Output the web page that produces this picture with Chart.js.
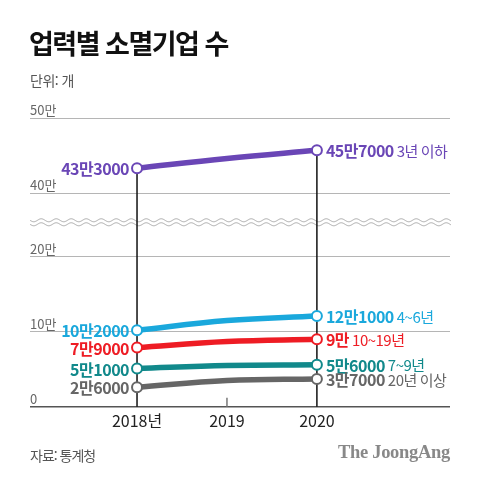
<!DOCTYPE html>
<html lang="ko">
<head>
<meta charset="utf-8">
<title>업력별 소멸기업 수</title>
<script src="https://cdn.jsdelivr.net/npm/chart.js@4.4.1/dist/chart.umd.min.js"></script>
<style>
  html, body { margin: 0; padding: 0; background: #fff; }
  #wrap { position: relative; width: 480px; height: 483px; overflow: hidden; }
  #chart { position: absolute; left: 0; top: 0; }
  .txt { position: absolute; font-family: 'Noto Sans CJK KR', sans-serif; white-space: nowrap; }
  #title { left: 29px; top: 23px; font-size: 27px; font-weight: 700; letter-spacing: -1.5px; color: #111; }
  #unit { left: 30px; top: 70px; font-size: 14px; letter-spacing: -0.5px; color: #555; }
  #source { left: 30px; top: 445px; font-size: 14px; letter-spacing: -1px; color: #555; }
  #brand { right: 30px; top: 442px; font-family: 'Liberation Serif', serif; font-size: 18.5px; font-weight: 700; color: #888; letter-spacing: -0.3px; }
</style>
</head>
<body>
<div id="wrap">
  <canvas id="chart" width="480" height="483"></canvas>
  <div class="txt" id="title">업력별 소멸기업 수</div>
  <div class="txt" id="unit">단위: 개</div>
  <div class="txt" id="source">자료: 통계청</div>
  <div class="txt" id="brand">The JoongAng</div>
</div>
<script>
// Data
const years = [2018, 2019, 2020];
const yearLabels = ['2018년', '2019', '2020'];
const seriesNames = ['3년 이하', '4~6년', '10~19년', '7~9년', '20년 이상'];
const upTo3 = [433000, 446000, 457000];
const y4to6 = [102000, 115000, 121000];
const y10to19 = [79000, 87000, 90000];
const y7to9 = [51000, 55000, 56000];
const over20 = [26000, 35000, 37000];
const seriesColors = ['#6a46b6', '#1aa8dc', '#ee1c24', '#11898b', '#666666'];
const yTickValues = [0, 100000, 200000, 400000, 500000];
const yTickLabels = ['0', '10만', '20만', '40만', '50만'];

// broken axis: everything from 40만 up is pulled down
const BREAK_SHIFT = 115000;
const BREAK_VALUE = 246000;
function toDisp(v) { return v >= 300000 ? v - BREAK_SHIFT : v; }

function fmtMan(v) {
    const man = Math.floor(v / 10000);
    const rest = v % 10000;
    return rest ? man + '만' + rest : man + '만';
}

const FONT = "'Noto Sans CJK KR', sans-serif";

const allSeries = [upTo3, y4to6, y10to19, y7to9, over20];
const datasets = allSeries.map((vals, i) => ({
    label: seriesNames[i],
    data: vals.map((v, j) => ({ x: years[j], y: toDisp(v) })),
    borderColor: seriesColors[i],
    backgroundColor: '#fff',
    borderWidth: 5.5,
    pointRadius: [5, 0, 5],
    pointBorderWidth: 2,
    pointBackgroundColor: '#fff',
    pointBorderColor: seriesColors[i],
    tension: 0.4,
    clip: false
}));

// waves, year guide lines and value labels
const decor = {
    id: 'decor',
    beforeDatasetsDraw(chart) {
        const ctx = chart.ctx;
        const { left, right, bottom } = chart.chartArea;
        const xs = chart.scales.x, ys = chart.scales.y;
        const wy = ys.getPixelForValue(BREAK_VALUE);
        ctx.save();
        // white strip + two wavy lines
        ctx.fillStyle = '#fff';
        ctx.fillRect(left, wy - 5, right - left + 2, 10);
        ctx.strokeStyle = '#a8a8a8';
        ctx.lineWidth = 1;
        [-2, 2].forEach(off => {
            ctx.beginPath();
            for (let x = left; x <= right + 1; x += 0.5) {
                const y = wy + off + 1.5 * Math.sin((x - left) / 15 * Math.PI * 2);
                if (x === left) ctx.moveTo(x, y); else ctx.lineTo(x, y);
            }
            ctx.stroke();
        });
        // black guides from top point down to axis
        ctx.strokeStyle = '#111';
        ctx.lineWidth = 1.5;
        [0, 2].forEach(j => {
            const x = xs.getPixelForValue(years[j]);
            const top = ys.getPixelForValue(toDisp(upTo3[j]));
            ctx.beginPath();
            ctx.moveTo(x, top);
            ctx.lineTo(x, bottom);
            ctx.stroke();
        });
        // small tick for 2019
        const x19 = xs.getPixelForValue(years[1]);
        ctx.strokeStyle = '#777';
        ctx.beginPath();
        ctx.moveTo(x19, bottom - 9);
        ctx.lineTo(x19, bottom);
        ctx.stroke();
        ctx.restore();
    },
    afterDatasetsDraw(chart) {
        const ctx = chart.ctx;
        ctx.save();
        ctx.textBaseline = 'middle';
        ctx.letterSpacing = '-0.5px';
        chart.data.datasets.forEach((ds, i) => {
            const meta = chart.getDatasetMeta(i);
            const vals = allSeries[i];
            const p0 = meta.data[0], p2 = meta.data[2];
            ctx.fillStyle = seriesColors[i];
            ctx.font = 'bold 16px ' + FONT;
            ctx.textAlign = 'right';
            ctx.fillText(fmtMan(vals[0]), p0.x - 8, p0.y + 1);
            ctx.textAlign = 'left';
            const t = fmtMan(vals[2]);
            ctx.fillText(t, p2.x + 9, p2.y + 1);
            const w = ctx.measureText(t).width;
            ctx.font = '15px ' + FONT;
            ctx.fillText(seriesNames[i], p2.x + 9 + w + 3, p2.y + 1);
        });
        ctx.restore();
    }
};

new Chart(document.getElementById('chart'), {
    type: 'line',
    data: { datasets: datasets },
    options: {
        responsive: false,
        animation: false,
        events: [],
        layout: { padding: { left: 30, right: 30, top: 118, bottom: 47 } },
        plugins: { legend: { display: false }, tooltip: { enabled: false } },
        scales: {
            x: {
                type: 'linear',
                min: 2016.81,
                max: 2021.48,
                afterBuildTicks: axis => { axis.ticks = years.map(v => ({ value: v })); },
                grid: { display: false, drawTicks: false },
                border: { display: false },
                ticks: {
                    padding: 5,
                    color: '#222',
                    font: { family: FONT, size: 16 },
                    callback: v => yearLabels[years.indexOf(v)]
                }
            },
            y: {
                min: 0,
                max: toDisp(500000),
                afterBuildTicks: axis => { axis.ticks = yTickValues.map(v => ({ value: toDisp(v) })); },
                grid: {
                    drawTicks: false,
                    color: c => c.tick && c.tick.value === 0 ? '#555' : '#b5b5b5',
                    lineWidth: c => c.tick && c.tick.value === 0 ? 1.5 : 1
                },
                border: { display: false },
                ticks: {
                    mirror: true,
                    padding: 0,
                    labelOffset: -8,
                    color: '#666',
                    font: { family: FONT, size: 13 },
                    callback: (v, idx) => yTickLabels[idx]
                }
            }
        }
    },
    plugins: [decor]
});
</script>
</body>
</html>
